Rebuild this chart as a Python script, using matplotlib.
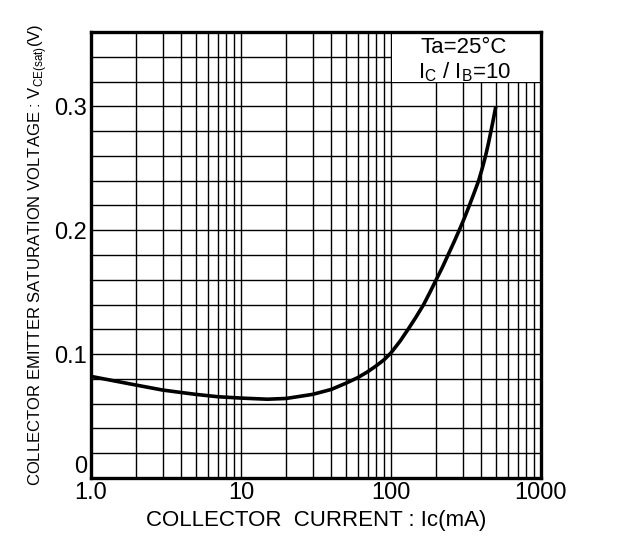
import matplotlib
matplotlib.use('Agg')
import matplotlib.pyplot as plt
from matplotlib.patches import Rectangle

plt.rcParams['font.family'] = ['Liberation Sans', 'DejaVu Sans']
plt.rcParams['mathtext.fontset'] = 'custom'
plt.rcParams['mathtext.rm'] = 'Liberation Sans'

# curve (Ic in mA, Vce(sat) in V)
ic = [1, 2, 3, 4, 5, 7, 10, 15, 20, 30, 40, 50, 60, 70, 80, 90, 100, 115,
      130, 147, 165, 182, 200, 220, 240, 262, 285, 309, 333, 358, 384, 406,
      427, 446, 464, 482, 500]
vce = [0.082, 0.075, 0.071, 0.069, 0.0675, 0.0656, 0.0645, 0.0636, 0.0642,
       0.0675, 0.0715, 0.0765, 0.081, 0.0858, 0.0907, 0.0955, 0.101, 0.1105,
       0.12, 0.13, 0.14, 0.15, 0.16, 0.17, 0.18, 0.19, 0.20, 0.21, 0.22,
       0.23, 0.24, 0.25, 0.26, 0.27, 0.28, 0.29, 0.30]

xticks = [1, 10, 100, 1000]
xticklabels = ['1.0', '10', '100', '1000']
yticks = [0, 0.1, 0.2, 0.3]
yticklabels = ['0', '0.1', '0.2', '0.3']

fig = plt.figure(figsize=(6.18, 5.44), dpi=100)
ax = fig.add_axes([91/618, 66/544, 450/618, 446/544])

ax.set_xscale('log')
ax.set_xlim(1, 1000)
ax.set_ylim(0, 0.36)

# log grid on x, 0.02 steps on y
xgrid = [m * 10**d for d in range(3) for m in range(1, 10)][1:]
ygrid = [i * 0.02 for i in range(1, 18)]
for x in xgrid:
    ax.axvline(x, color='black', lw=1.0, zorder=0.5)
for y in ygrid:
    ax.axhline(y, color='black', lw=1.0, zorder=0.5)

# white box behind the condition text
ax.add_patch(Rectangle((101.5, 0.32), 1000 - 101.5, 0.04, facecolor='white',
                       edgecolor='none', zorder=1))

ax.plot(ic, vce, color='black', lw=2.6, zorder=3, solid_capstyle='butt')

ax.set_xticks(xticks)
ax.set_xticklabels(xticklabels)
ax.set_xticks([], minor=True)
ax.set_yticks(yticks)
ax.set_yticklabels(yticklabels)
ax.tick_params(length=0, labelsize=17)
ax.tick_params(axis='x', pad=3)
ax.tick_params(axis='y', pad=3)
ax.get_yticklabels()[0].set_va('bottom')

for sp in ax.spines.values():
    sp.set_linewidth(2.4)
    sp.set_zorder(4)

ax.set_xlabel('COLLECTOR  CURRENT : Ic(mA)', fontsize=16, labelpad=4)
ax.set_ylabel('COLLECTOR EMITTER SATURATION VOLTAGE : V$_\\mathregular{CE(sat)}$(V)',
              fontsize=12, labelpad=4)

ax.text(0.829, 0.953, 'Ta=25°C', transform=ax.transAxes, ha='center', va='baseline',
        fontsize=16, zorder=5)
ax.text(0.829, 0.897, 'I$_\\mathregular{C}$ / I$_\\mathregular{B}$=10', transform=ax.transAxes,
        ha='center', va='baseline', fontsize=16, zorder=5)

fig.savefig('out.png', dpi=100)
